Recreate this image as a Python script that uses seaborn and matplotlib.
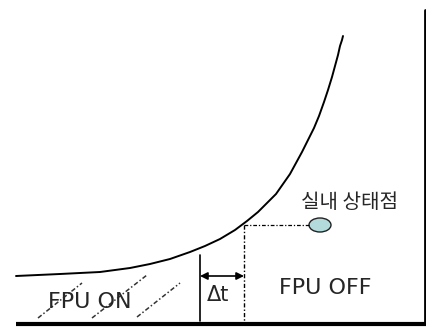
import matplotlib
matplotlib.use("Agg")
import matplotlib.pyplot as plt
import seaborn as sns
import pandas as pd
from matplotlib.patches import Ellipse

# Comfort curve (canvas units, y grows downward)
curve_x = [16, 60, 100, 130, 150, 170, 190, 205, 220, 235, 247, 258, 267, 276, 283,
           290, 296, 302, 308, 314, 319, 324, 328, 332, 335, 338, 340, 342, 343]
curve_y = [276, 274, 272, 268, 264, 259, 252, 246, 239, 230, 221, 212, 203, 194, 184,
           174, 163, 152, 140, 128, 116, 102, 90, 77, 66, 55, 46, 40, 36]

# Hatching strokes of the FPU ON zone (start / end)
hatch_x0 = [38, 92, 137]
hatch_y0 = [318, 318, 317]
hatch_x1 = [82, 147, 180]
hatch_y1 = [283, 275, 283]

# Indoor state point and the time gap dt
state_x, state_y = 320, 225
dt_left, dt_right = 200, 244

labels = {"state": "실내 상태점", "off": "FPU OFF", "on": "FPU ON", "dt": "Δt"}

sns.set_theme(style="white")
plt.rcParams['font.family'] = ['DejaVu Sans', 'Noto Sans CJK KR']

fig = plt.figure(figsize=(4.27, 3.31), dpi=100)
ax = fig.add_axes([0, 0, 1, 1])
ax.set_xlim(0, 427)
ax.set_ylim(331, 0)
ax.axis("off")

curve = pd.DataFrame({"x": curve_x, "y": curve_y})
sns.lineplot(data=curve, x="x", y="y", sort=False, color="black", lw=1.4, ax=ax)

# frame: bottom axis and right border
ax.plot([16, 427], [324, 324], color="black", lw=3, solid_capstyle="butt")
ax.plot([425, 425], [10, 324], color="black", lw=2)

# hatch strokes
for x0, y0, x1, y1 in zip(hatch_x0, hatch_y0, hatch_x1, hatch_y1):
    ax.plot([x0, x1], [y0, y1], color="#333333", lw=1.1, ls=(0, (3, 1.5, 1, 1.5)))

# dt markers
ax.plot([dt_left, dt_left], [255, 321], color="black", lw=1.2)
ax.plot([dt_right, dt_right], [state_y, 324], color="black", lw=1, ls=(0, (3, 1.5, 1, 1.5)))
ax.plot([dt_right, state_x - 11], [state_y, state_y], color="black", lw=0.9,
        ls=(0, (3, 1.5, 1, 1.5)))
ax.annotate("", xy=(dt_left, 276), xytext=(dt_right, 276),
            arrowprops=dict(arrowstyle="<|-|>", color="black", lw=1.2,
                            mutation_scale=11, shrinkA=0, shrinkB=0))

ax.add_patch(Ellipse((state_x, state_y), 22, 14, facecolor="#b3dbdc",
                     edgecolor="#222222", lw=1))

ax.text(350, 203, labels["state"], ha="center", va="center", fontsize=14.5,
        family=['Noto Sans CJK KR', 'DejaVu Sans'])
ax.text(325, 288, labels["off"], ha="center", va="center", fontsize=16)
ax.text(90, 302, labels["on"], ha="center", va="center", fontsize=16)
ax.text(218, 295, labels["dt"], ha="center", va="center", fontsize=15)

fig.savefig("out.png", dpi=100)
